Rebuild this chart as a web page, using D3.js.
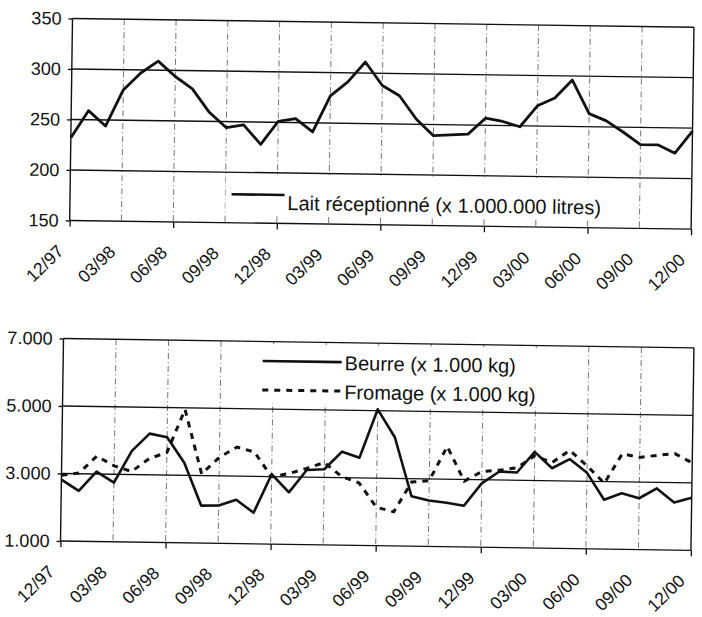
<!DOCTYPE html>
<html>
<head>
<meta charset="utf-8">
<script src="https://cdn.jsdelivr.net/npm/d3@7"></script>
<style>
  body { margin: 0; background: #fff; }
  svg { font-family: "Liberation Sans", Arial, sans-serif; }
  .grid-h { stroke: #111; stroke-width: 1.4; }
  .grid-v { stroke: #666; stroke-width: 0.9; stroke-dasharray: 6,3,1,3; }
  .frame { stroke: #111; stroke-width: 1.4; fill: none; }
  .tick line { stroke: #111; stroke-width: 1.3; }
  .tick text { fill: #111; }
</style>
</head>
<body>
<div id="chart"></div>
<script>
// Months (12/97 -> 12/00)
var months = ["12/97", "01/98", "02/98", "03/98", "04/98", "05/98", "06/98", "07/98", "08/98",
    "09/98", "10/98", "11/98", "12/98", "01/99", "02/99", "03/99", "04/99", "05/99", "06/99",
    "07/99", "08/99", "09/99", "10/99", "11/99", "12/99", "01/00", "02/00", "03/00", "04/00",
    "05/00", "06/00", "07/00", "08/00", "09/00", "10/00", "11/00", "12/00"];

var tickLabels = ["12/97", "03/98", "06/98", "09/98", "12/98", "03/99", "06/99",
    "09/99", "12/99", "03/00", "06/00", "09/00", "12/00"];

// Lait réceptionné (x 1.000.000 litres)
var lait = [232, 259, 244, 280, 297, 309, 294, 282, 259, 244, 247, 228, 251, 254, 241, 277,
    291, 311, 288, 278, 255, 239, 240, 241, 257, 254, 249, 270, 278, 296, 263, 256, 245,
    233, 233, 225, 247];

// Beurre (x 1.000 kg)
var beurre = [2820, 2490, 3070, 2750, 3700, 4220, 4120, 3370, 2110, 2120, 2300, 1920, 3070,
    2540, 3210, 3240, 3770, 3600, 5040, 4220, 2480, 2360, 2300, 2220, 2890, 3250, 3230,
    3850, 3370, 3650, 3250, 2460, 2660, 2520, 2820, 2410, 2560];

// Fromage (x 1.000 kg)
var fromage = [2950, 3020, 3530, 3250, 3090, 3480, 3670, 4950, 3050, 3550, 3860, 3720, 2990,
    3100, 3260, 3440, 3030, 2850, 2140, 2010, 2900, 2950, 3970, 2950, 3240, 3290, 3370,
    3730, 3540, 3910, 3460, 2950, 3830, 3730, 3800, 3860, 3590];

var laitTicks = [150, 200, 250, 300, 350];
var kgTicks = [1000, 3000, 5000, 7000];

var fr = d3.formatLocale({ decimal: ",", thousands: ".", grouping: [3], currency: ["", ""] });
var fmtKg = fr.format(",");

var svg = d3.select("#chart")
    .append("svg")
    .attr("width", 702)
    .attr("height", 617);

// Draws one panel (axes, grid, frame); the scan is slightly tilted
function drawPanel(box, yDomain, yTicks, yFormat) {
    var g = svg.append("g")
        .attr("transform", "rotate(" + box.angle + "," + box.left + "," + box.top + ")");

    var x = d3.scalePoint().domain(months).range([box.left, box.right]);
    var y = d3.scaleLinear().domain(yDomain).range([box.bottom, box.top]);

    // vertical dashed grid every 3 months
    g.selectAll(".grid-v")
        .data(tickLabels.slice(1, -1))
        .enter()
        .append("line")
        .attr("class", "grid-v")
        .attr("x1", function (d) { return x(d); })
        .attr("x2", function (d) { return x(d); })
        .attr("y1", box.top)
        .attr("y2", box.bottom);

    // horizontal grid
    g.selectAll(".grid-h")
        .data(yTicks)
        .enter()
        .append("line")
        .attr("class", "grid-h")
        .attr("x1", box.left)
        .attr("x2", box.right)
        .attr("y1", function (d) { return y(d); })
        .attr("y2", function (d) { return y(d); });

    // left and right borders
    g.append("line").attr("class", "frame")
        .attr("x1", box.left).attr("x2", box.left).attr("y1", box.top).attr("y2", box.bottom);
    g.append("line").attr("class", "frame")
        .attr("x1", box.right).attr("x2", box.right).attr("y1", box.top).attr("y2", box.bottom);

    // y axis
    var yAxis = g.append("g")
        .attr("transform", "translate(" + box.left + ",0)")
        .call(d3.axisLeft(y).tickValues(yTicks).tickSize(4).tickFormat(yFormat));
    yAxis.select(".domain").remove();
    yAxis.attr("font-size", 18).attr("font-family", null);
    yAxis.selectAll(".tick text")
        .attr("x", -11);

    // x axis: labels every 3 months, tick marks every 6
    var xAxis = g.append("g")
        .attr("transform", "translate(0," + box.bottom + ")")
        .call(d3.axisBottom(x).tickValues(tickLabels).tickSize(6));
    xAxis.select(".domain").remove();
    xAxis.attr("font-size", 17.5).attr("font-family", null);
    xAxis.selectAll(".tick line")
        .attr("opacity", function (d, i) { return i % 2 === 0 ? 1 : 0; });
    xAxis.selectAll(".tick text")
        .attr("x", 0)
        .attr("y", 0)
        .attr("dy", 0)
        .attr("transform", "translate(-5,32) rotate(-45)")
        .style("text-anchor", "end");

    return { g: g, x: x, y: y };
}

// Top panel: milk
var milk = drawPanel({ left: 72.5, right: 694, top: 18.5, bottom: 220.5, angle: 0.8 },
    [150, 350], laitTicks, d3.format("d"));

milk.g.append("path")
    .datum(lait)
    .attr("fill", "none")
    .attr("stroke", "#111")
    .attr("stroke-width", 2.8)
    .attr("stroke-linejoin", "round")
    .attr("d", d3.line()
        .x(function (d, i) { return milk.x(months[i]); })
        .y(function (d) { return milk.y(d); }));

// legend (white box hides the grid behind it)
milk.g.append("rect")
    .attr("x", 228).attr("y", 174).attr("width", 392).attr("height", 38)
    .attr("fill", "#fff");
milk.g.append("line")
    .attr("x1", 234).attr("x2", 287).attr("y1", 192).attr("y2", 192)
    .attr("stroke", "#111").attr("stroke-width", 2.6);
milk.g.append("text")
    .attr("x", 290).attr("y", 207)
    .attr("font-size", 20)
    .attr("fill", "#111")
    .text("Lait réceptionné (x 1.000.000 litres)");

// Bottom panel: butter and cheese
var dairy = drawPanel({ left: 63.5, right: 694, top: 338.5, bottom: 541, angle: 0.85 },
    [1000, 7000], kgTicks, fmtKg);

var kgLine = d3.line()
    .x(function (d, i) { return dairy.x(months[i]); })
    .y(function (d) { return dairy.y(d); });

dairy.g.append("path")
    .datum(fromage)
    .attr("fill", "none")
    .attr("stroke", "#111")
    .attr("stroke-width", 3)
    .attr("stroke-dasharray", "6,6")
    .attr("d", kgLine);

dairy.g.append("path")
    .datum(beurre)
    .attr("fill", "none")
    .attr("stroke", "#111")
    .attr("stroke-width", 2.6)
    .attr("stroke-linejoin", "round")
    .attr("d", kgLine);

// legend
dairy.g.append("rect")
    .attr("x", 258).attr("y", 341).attr("width", 288).attr("height", 59)
    .attr("fill", "#fff");
dairy.g.append("line")
    .attr("x1", 263).attr("x2", 342).attr("y1", 358).attr("y2", 358)
    .attr("stroke", "#111").attr("stroke-width", 2.6);
dairy.g.append("text")
    .attr("x", 345).attr("y", 366)
    .attr("font-size", 20).attr("fill", "#111")
    .text("Beurre (x 1.000 kg)");
dairy.g.append("line")
    .attr("x1", 263).attr("x2", 342).attr("y1", 387).attr("y2", 387)
    .attr("stroke", "#111").attr("stroke-width", 3)
    .attr("stroke-dasharray", "6,6");
dairy.g.append("text")
    .attr("x", 345).attr("y", 395)
    .attr("font-size", 20).attr("fill", "#111")
    .text("Fromage (x 1.000 kg)");
</script>
</body>
</html>
